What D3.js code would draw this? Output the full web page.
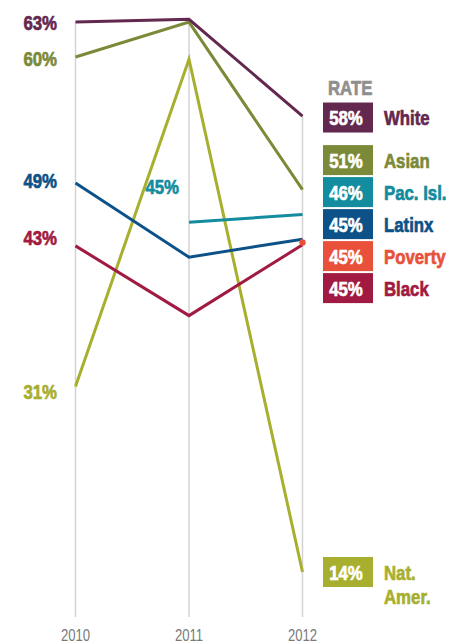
<!DOCTYPE html>
<html>
<head>
<meta charset="utf-8">
<script src="https://cdn.jsdelivr.net/npm/d3@7"></script>
<style>
  html, body { margin: 0; padding: 0; background: #fff; }
  svg text { font-family: "Liberation Sans", Arial, sans-serif; }
</style>
</head>
<body>
<svg id="chart" width="451" height="643"></svg>
<script>
// ---- data ----
const years = [2010, 2011, 2012];
const seriesNames = ["Nat. Amer.", "Black", "Latinx", "Pac. Isl.", "Asian", "White"];
const natAmer = [30.5, 59.6, 14.0];
const black   = [43.0, 36.8, 43.1];
const latinx  = [48.6, 42.0, 43.6];
const pacIsl  = [null, 45.1, 45.8];
const asian   = [59.8, 62.9, 48.0];
const white   = [62.9, 63.15, 54.55];
const poverty2012 = 43.3;
const colors = {
  "White": "#63284f", "Asian": "#7b8a38", "Pac. Isl.": "#128c9e",
  "Latinx": "#0c5288", "Poverty": "#e8503a", "Black": "#a11a41", "Nat. Amer.": "#a8af2f"
};
const startLabels = [
  {name: "White", text: "63%"}, {name: "Asian", text: "60%"},
  {name: "Latinx", text: "49%"}, {name: "Black", text: "43%"},
  {name: "Nat. Amer.", text: "31%"}
];
const midLabel = {name: "Pac. Isl.", text: "45%"};
const legendNames = ["White", "Asian", "Pac. Isl.", "Latinx", "Poverty", "Black", "Nat. Amer."];
const legendRates = ["58%", "51%", "46%", "45%", "45%", "45%", "14%"];
const yearLabels = ["2010", "2011", "2012"];

const valuesByName = {
  "Nat. Amer.": natAmer, "Black": black, "Latinx": latinx,
  "Pac. Isl.": pacIsl, "Asian": asian, "White": white
};

// ---- scales ----
const svg = d3.select("#chart");
const x = d3.scalePoint().domain(years).range([75.5, 302.5]);
const y = d3.scaleLinear().domain([14, 63]).range([572, 21]);
const gridBottom = 617;
const NARROW = 0.8;

function label(parent, px, py, str, opts) {
  const bold = (opts.weight || "bold") === "bold";
  return parent.append("text")
    .attr("transform", `translate(${px},${py}) scale(${opts.narrow || NARROW},1)`)
    .attr("dy", opts.dy || "0.36em")
    .attr("text-anchor", opts.anchor || "start")
    .attr("font-size", opts.size || 21)
    .attr("font-weight", opts.weight || "bold")
    .attr("fill", opts.fill)
    .attr("stroke", bold ? opts.fill : "none")
    .attr("stroke-width", bold ? 0.7 : 0)
    .text(str);
}

// gridlines
years.forEach((yr, i) => {
  const vals = seriesNames.map(n => valuesByName[n][i]).filter(v => v != null);
  const top = d3.max(vals);
  svg.append("line")
    .attr("x1", x(yr)).attr("x2", x(yr))
    .attr("y1", y(top)).attr("y2", gridBottom)
    .attr("stroke", "#d3d3d3").attr("stroke-width", 1.5);
});

// lines
const line = d3.line()
  .defined(d => d.v != null)
  .x(d => x(d.year)).y(d => y(d.v));
seriesNames.forEach(n => {
  const pts = years.map((yr, i) => ({year: yr, v: valuesByName[n][i]}));
  svg.append("path")
    .datum(pts)
    .attr("d", line)
    .attr("fill", "none")
    .attr("stroke", colors[n])
    .attr("stroke-width", 3);
});
svg.append("circle")
  .attr("cx", x(2012)).attr("cy", y(poverty2012))
  .attr("r", 3.2).attr("fill", colors["Poverty"]);

// start labels
const startOffsets = {"White": 0, "Asian": 1, "Latinx": -3, "Black": -8, "Nat. Amer.": 4.5};
startLabels.forEach(l => {
  label(svg, 57, y(valuesByName[l.name][0]) + startOffsets[l.name], l.text,
        {anchor: "end", fill: colors[l.name]});
});
label(svg, 179, y(pacIsl[1]) - 36, midLabel.text, {anchor: "end", fill: colors[midLabel.name]});

// legend
const endVal = {
  "White": white[2], "Asian": asian[2], "Pac. Isl.": pacIsl[2], "Latinx": latinx[2],
  "Poverty": poverty2012, "Black": black[2], "Nat. Amer.": natAmer[2]
};
const slot = 32;
let items = legendNames.map((n, i) => ({name: n, rate: legendRates[i], target: y(endVal[n])}));
let clusters = items.map(it => ({items: [it], center: it.target}));
let changed = true;
while (changed) {
  changed = false;
  for (let i = 0; i < clusters.length - 1; i++) {
    const a = clusters[i], b = clusters[i + 1];
    const aBottom = a.center + (a.items.length * slot) / 2;
    const bTop = b.center - (b.items.length * slot) / 2;
    if (aBottom > bTop) {
      const merged = a.items.concat(b.items);
      clusters.splice(i, 2, {items: merged, center: d3.mean(merged, d => d.target)});
      changed = true;
      break;
    }
  }
}
clusters.forEach(c => {
  const n = c.items.length;
  c.items.forEach((it, k) => { it.cy = c.center + (k - (n - 1) / 2) * slot; });
});
items.forEach(it => { if (it.name !== "White" && it.name !== "Nat. Amer.") it.cy -= 2; });
items[0].cy += 1.5;

label(svg, 328, 87, "RATE", {fill: "#8f8f8f"});

const boxW = 50, boxH = 30, boxX = 323;
items.forEach(it => {
  const g = svg.append("g");
  g.append("rect")
    .attr("x", boxX).attr("y", it.cy - boxH / 2)
    .attr("width", boxW).attr("height", boxH)
    .attr("fill", colors[it.name]);
  label(g, boxX + boxW / 2 - 2, it.cy, it.rate, {anchor: "middle", fill: "#fff"});
  const words = it.name === "Nat. Amer." ? ["Nat.", "Amer."] : [it.name];
  words.forEach((w, k) => label(g, 384, it.cy + k * 24, w, {fill: colors[it.name]}));
});

// year axis labels
years.forEach((yr, i) => {
  label(svg, x(yr), 641, yearLabels[i],
        {anchor: "middle", size: 16, weight: "normal", narrow: 0.82, fill: "#7a7a7a", dy: "0"});
});
</script>
</body>
</html>
